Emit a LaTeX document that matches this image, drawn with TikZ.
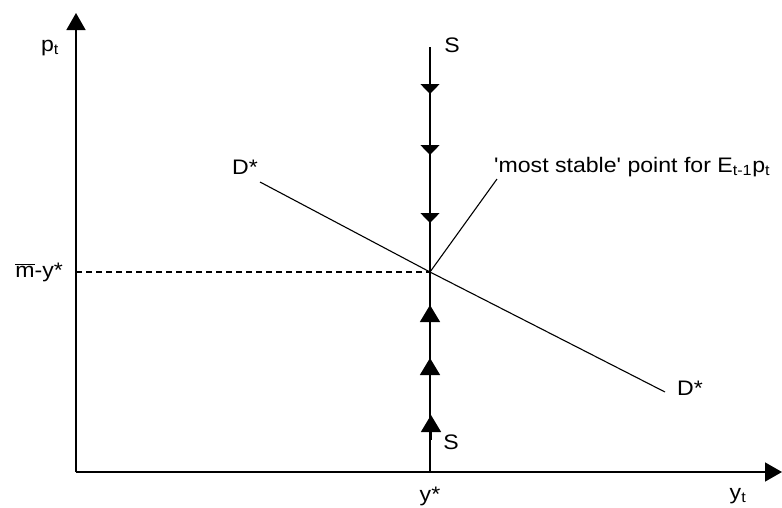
\documentclass[tikz,border=0pt]{standalone}
\usepackage{fontspec}
\newfontfamily\arialf{Liberation Sans}
\usetikzlibrary{arrows.meta}
\newcommand\wtxt[1]{\scalebox{1.1}[1]{#1}}
\tikzset{
  axis/.style={line width=1.5pt},
  thin line/.style={line width=1.1pt},
  lbl/.style={font=\arialf\fontsize{21}{25}\selectfont, inner sep=0pt},
  downhead/.style={-{Triangle[length=10pt,width=19pt]}, line width=1.5pt},
  uphead/.style={-{Triangle[length=17pt,width=20pt]}, line width=1.5pt},
  axhead/.style={-{Triangle[length=17pt,width=19pt]}, axis}
}
\begin{document}
\begin{tikzpicture}[x=1pt,y=-1pt]
\useasboundingbox (0,0) rectangle (782,507);
% coordinates
\coordinate (O) at (76,472);
\coordinate (Ytop) at (76,13);
\coordinate (Xend) at (782,472);
\coordinate (Stop) at (430,47);
\coordinate (Sbot) at (430,472);
\coordinate (E) at (430,272);
\coordinate (Dl) at (260,182);
\coordinate (Dr) at (665,392);
\coordinate (L) at (497,179);
\coordinate (M) at (76,272);
% axes
\draw[axhead] (O) -- (Ytop);
\draw[axhead] (O) -- (Xend);
% S line
\draw[axis] (Stop) -- (Sbot);
\draw[downhead] (430,80) -- (430,94);
\draw[downhead] (430,141) -- (430,155);
\draw[downhead] (430,209) -- (430,223);
\draw[uphead] (430,330) -- (430,305);
\draw[uphead] (430,383) -- (430,358);
\draw[uphead] (431,440) -- (431,415);
% D line
\draw[thin line] (Dl) -- (E) -- (Dr);
% dashed
\draw[line width=1.3pt, dash pattern=on 6pt off 4pt] (M) -- (E);
% leader
\draw[thin line] (E) -- (L);
% labels
\node[lbl] (pt) at (50,48) {\wtxt{p\textsubscript{t}}};
\node[lbl] (yt) at (738,496) {\wtxt{y\textsubscript{t}}};
\node[lbl] (ys) at (430,496) {\wtxt{y*}};
\node[lbl, anchor=east] (my) at (63,272) {\wtxt{$\overline{\mbox{\arialf\fontsize{21}{25}\selectfont m}}$-y*}};
\node[lbl] (S1) at (452,45) {\wtxt{S}};
\node[lbl] (S2) at (451,442) {\wtxt{S}};
\node[lbl] (D1) at (245,167) {\wtxt{D*}};
\node[lbl] (D2) at (690,388) {\wtxt{D*}};
\node[lbl, anchor=west] (ms) at (494,167) {\wtxt{'most stable' point for E\textsubscript{t-1}p\textsubscript{t}}};
\end{tikzpicture}
\end{document}
